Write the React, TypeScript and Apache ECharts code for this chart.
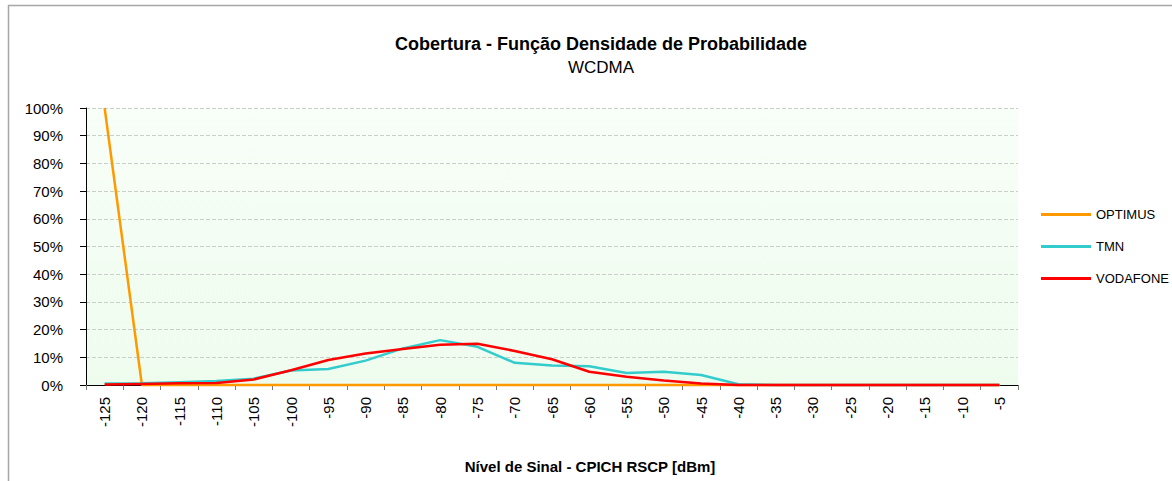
import React, { useEffect, useRef } from "react";
import * as echarts from "echarts";

const categories = ["-125","-120","-115","-110","-105","-100","-95","-90","-85","-80","-75","-70","-65","-60","-55","-50","-45","-40","-35","-30","-25","-20","-15","-10","-5"];
const optimus = [100,0,0,0,0,0,0,0,0,0,0,0,0,0,0,0,0,0,0,0,0,0,0,0,0];
const tmn = [0.5,0.6,1.0,1.4,2.3,5.2,5.8,8.8,13.2,16.2,13.8,8.0,7.0,6.8,4.3,4.8,3.6,0.3,0,0,0,0,0,0,0];
const vodafone = [0.2,0.4,0.6,0.7,2.0,5.3,9.0,11.4,13.0,14.5,14.9,12.3,9.3,4.8,3.0,1.6,0.5,0,0,0,0,0,0,0,0];
const seriesNames = ["OPTIMUS", "TMN", "VODAFONE"];
const colors = ["#FF9900", "#33CCCC", "#FF0000"];

const FONT = "'Liberation Sans Narrow', 'Arial Narrow', 'Liberation Sans', Arial, sans-serif";

export default function App() {
  const ref = useRef<HTMLDivElement>(null);
  useEffect(() => {
    if (!ref.current) return;
    const chart = echarts.init(ref.current, null, { renderer: "svg" });
    const data = [optimus, tmn, vodafone];
    chart.setOption({
      animation: false,
      textStyle: { fontFamily: FONT, color: "#000" },
      title: {
        text: "Cobertura - Função Densidade de Probabilidade",
        subtext: "WCDMA",
        left: 596,
        textAlign: "center",
        top: 30,
        itemGap: 6,
        textStyle: { fontFamily: FONT, fontSize: 18, fontWeight: "bold", color: "#000" },
        subtextStyle: { fontFamily: FONT, fontSize: 17, color: "#000" },
      },
      legend: {
        orient: "vertical",
        left: 1036,
        top: 203,
        itemWidth: 50,
        itemHeight: 3,
        itemGap: 19,
        icon: "rect",
        textStyle: { fontFamily: FONT, fontSize: 13, color: "#000" },
        data: seriesNames,
      },
      graphic: [
        {
          type: "rect",
          shape: { x: 8.5, y: 5.5, width: 1180, height: 500 },
          style: { fill: "none", stroke: "#a6a6a6", lineWidth: 1.5 },
          silent: true,
        },
        {
          type: "text",
          x: 590,
          y: 466,
          style: {
            text: "Nível de Sinal - CPICH RSCP [dBm]",
            fontFamily: FONT,
            fontSize: 15,
            fontWeight: "bold",
            fill: "#000",
            align: "center",
            verticalAlign: "middle",
          },
        },
      ],
      grid: {
        left: 86,
        right: 154,
        top: 108,
        bottom: 96,
        show: true,
        borderWidth: 0,
        backgroundColor: {
          type: "linear",
          x: 0, y: 0, x2: 0, y2: 1,
          colorStops: [
            { offset: 0, color: "#f8fef8" },
            { offset: 1, color: "#eefcee" },
          ],
        },
      },
      xAxis: {
        type: "category",
        data: categories,
        boundaryGap: true,
        axisLine: { lineStyle: { color: "#000", width: 1 } },
        axisTick: { show: true, alignWithLabel: false, length: 5, lineStyle: { color: "#777" } },
        axisLabel: { rotate: 90, margin: 12, fontSize: 15, color: "#000", fontFamily: FONT, interval: 0 },
        splitLine: { show: false },
      },
      yAxis: {
        type: "value",
        min: 0,
        max: 100,
        interval: 10,
        axisLine: { show: true, lineStyle: { color: "#000", width: 1 } },
        axisTick: { show: true, length: 6, lineStyle: { color: "#000" } },
        axisLabel: { formatter: "{value}%", margin: 23, fontSize: 15, color: "#000", fontFamily: FONT },
        splitLine: { show: true, lineStyle: { color: "#c8d0c8", type: "dashed", width: 1 } },
      },
      series: seriesNames.map((name, i) => ({
        name,
        type: "line",
        data: data[i],
        symbol: "none",
        smooth: false,
        lineStyle: { color: colors[i], width: 2.5 },
        itemStyle: { color: colors[i] },
        clip: false,
      })),
    });
    return () => chart.dispose();
  }, []);
  return (
    <div
      ref={ref}
      style={{ position: "fixed", left: 0, top: 0, width: 1172, height: 481, background: "#fff" }}
    />
  );
}
